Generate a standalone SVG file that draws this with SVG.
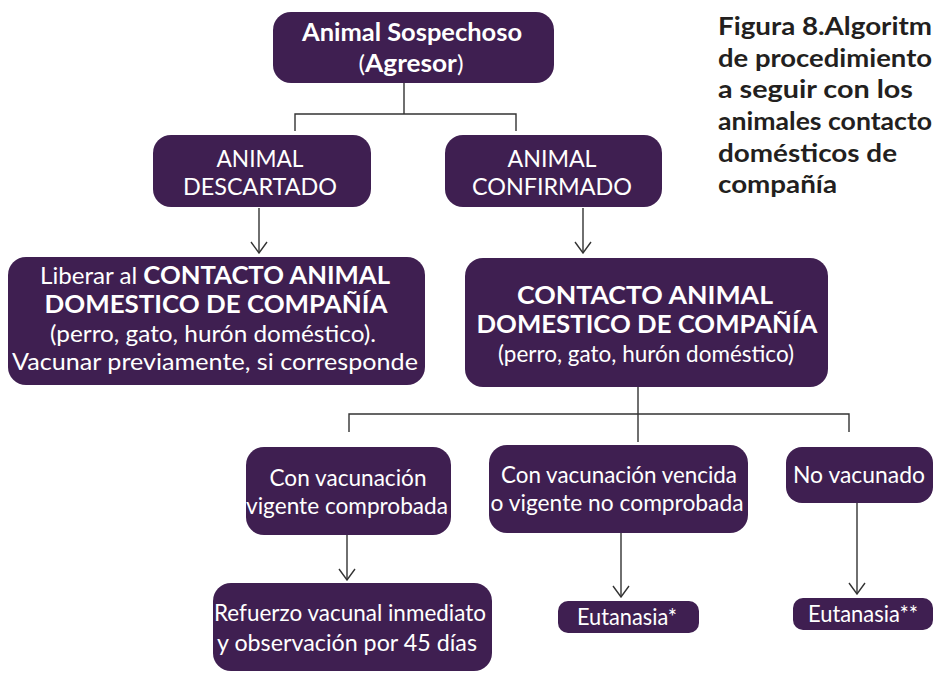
<svg xmlns="http://www.w3.org/2000/svg" width="934" height="674" viewBox="0 0 934 674">
<defs>
<style>
.box{fill:#3f1f51}
.t{font-family:Lato,"Open Sans","Liberation Sans",sans-serif;font-size:23.5px;fill:#ffffff;text-anchor:middle}
.b{font-weight:bold;font-size:25px}
.ttl{font-family:Lato,"Open Sans","Liberation Sans",sans-serif;font-size:25px;font-weight:bold;fill:#231f20}
.ln{stroke:#333333;stroke-width:1.4;fill:none}
</style>
<marker id="ah" viewBox="0 0 20 14" refX="10" refY="13" markerWidth="20" markerHeight="14" markerUnits="userSpaceOnUse" orient="0">
<path d="M2,2 L10,13 L18,2" fill="none" stroke="#333333" stroke-width="1.4"/>
</marker>
</defs>
<rect width="934" height="674" fill="#ffffff"/>
<g id="connectors">
<path class="ln" d="M404,83 V114 M295,131 V114 H516 V131"/>
<path class="ln" d="M259,208 V253" marker-end="url(#ah)"/>
<path class="ln" d="M583,208 V253" marker-end="url(#ah)"/>
<path class="ln" d="M638,387 V442 M349,432 V414 H849 V432"/>
<path class="ln" d="M347,535 V580" marker-end="url(#ah)"/>
<path class="ln" d="M621,533 V597" marker-end="url(#ah)"/>
<path class="ln" d="M857,503 V594" marker-end="url(#ah)"/>
</g>
<g id="title">
<text class="ttl" x="718" y="35" textLength="214" lengthAdjust="spacingAndGlyphs">Figura 8.Algoritm</text>
<text class="ttl" x="718" y="67" textLength="214" lengthAdjust="spacingAndGlyphs">de procedimiento</text>
<text class="ttl" x="718" y="98" textLength="195" lengthAdjust="spacingAndGlyphs">a seguir con los</text>
<text class="ttl" x="718" y="130" textLength="214" lengthAdjust="spacingAndGlyphs">animales contacto</text>
<text class="ttl" x="718" y="162" textLength="179" lengthAdjust="spacingAndGlyphs">domésticos de</text>
<text class="ttl" x="718" y="193" textLength="119" lengthAdjust="spacingAndGlyphs">compañía</text>
</g>
<g id="n-sospechoso">
<rect class="box" x="273" y="12" width="281" height="71" rx="18"/>
<text class="t b" x="412" y="41" textLength="220" lengthAdjust="spacingAndGlyphs">Animal Sospechoso</text>
<text class="t" x="411" y="72" textLength="105" lengthAdjust="spacingAndGlyphs">(<tspan class="b">Agresor</tspan>)</text>
</g>
<g id="n-descartado">
<rect class="box" x="153" y="135" width="218" height="72" rx="18"/>
<text class="t" x="260" y="167" textLength="87" lengthAdjust="spacingAndGlyphs">ANIMAL</text>
<text class="t" x="260" y="195" textLength="154" lengthAdjust="spacingAndGlyphs">DESCARTADO</text>
</g>
<g id="n-confirmado">
<rect class="box" x="445" y="135" width="217" height="72" rx="18"/>
<text class="t" x="552" y="167" textLength="89" lengthAdjust="spacingAndGlyphs">ANIMAL</text>
<text class="t" x="552" y="195" textLength="160" lengthAdjust="spacingAndGlyphs">CONFIRMADO</text>
</g>
<g id="n-liberar">
<rect class="box" x="8" y="257" width="417" height="128" rx="18"/>
<text class="t" x="215" y="284" textLength="350" lengthAdjust="spacingAndGlyphs">Liberar al <tspan class="b">CONTACTO ANIMAL</tspan></text>
<text class="t b" x="216" y="313" textLength="343" lengthAdjust="spacingAndGlyphs">DOMESTICO DE COMPAÑÍA</text>
<text class="t" x="213" y="342" textLength="326" lengthAdjust="spacingAndGlyphs">(perro, gato, hurón doméstico).</text>
<text class="t" x="215" y="370" textLength="406" lengthAdjust="spacingAndGlyphs">Vacunar previamente, si corresponde</text>
</g>
<g id="n-contacto">
<rect class="box" x="465" y="258" width="363" height="129" rx="18"/>
<text class="t b" x="645" y="304" textLength="256" lengthAdjust="spacingAndGlyphs">CONTACTO ANIMAL</text>
<text class="t b" x="647" y="333" textLength="341" lengthAdjust="spacingAndGlyphs">DOMESTICO DE COMPAÑÍA</text>
<text class="t" x="646" y="362" textLength="296" lengthAdjust="spacingAndGlyphs">(perro, gato, hurón doméstico)</text>
</g>
<g id="n-vigente">
<rect class="box" x="246" y="447" width="205" height="88" rx="18"/>
<text class="t" x="348" y="486" textLength="157" lengthAdjust="spacingAndGlyphs">Con vacunación</text>
<text class="t" x="347" y="514" textLength="202" lengthAdjust="spacingAndGlyphs">vigente comprobada</text>
</g>
<g id="n-vencida">
<rect class="box" x="489" y="445" width="259" height="88" rx="18"/>
<text class="t" x="619" y="483" textLength="236" lengthAdjust="spacingAndGlyphs">Con vacunación vencida</text>
<text class="t" x="617" y="511" textLength="253" lengthAdjust="spacingAndGlyphs">o vigente no comprobada</text>
</g>
<g id="n-novacunado">
<rect class="box" x="786" y="447" width="147" height="56" rx="16"/>
<text class="t" x="859" y="483" textLength="132" lengthAdjust="spacingAndGlyphs">No vacunado</text>
</g>
<g id="n-refuerzo">
<rect class="box" x="213" y="583" width="279" height="88" rx="18"/>
<text class="t" x="350" y="621" textLength="272" lengthAdjust="spacingAndGlyphs">Refuerzo vacunal inmediato</text>
<text class="t" x="347" y="651" textLength="260" lengthAdjust="spacingAndGlyphs">y observación por 45 días</text>
</g>
<g id="n-eutanasia1">
<rect class="box" x="558" y="601" width="141" height="32" rx="10"/>
<text class="t" x="627" y="625" textLength="100" lengthAdjust="spacingAndGlyphs">Eutanasia*</text>
</g>
<g id="n-eutanasia2">
<rect class="box" x="793" y="598" width="140" height="32" rx="10"/>
<text class="t" x="863" y="622" textLength="110" lengthAdjust="spacingAndGlyphs">Eutanasia**</text>
</g>
</svg>
